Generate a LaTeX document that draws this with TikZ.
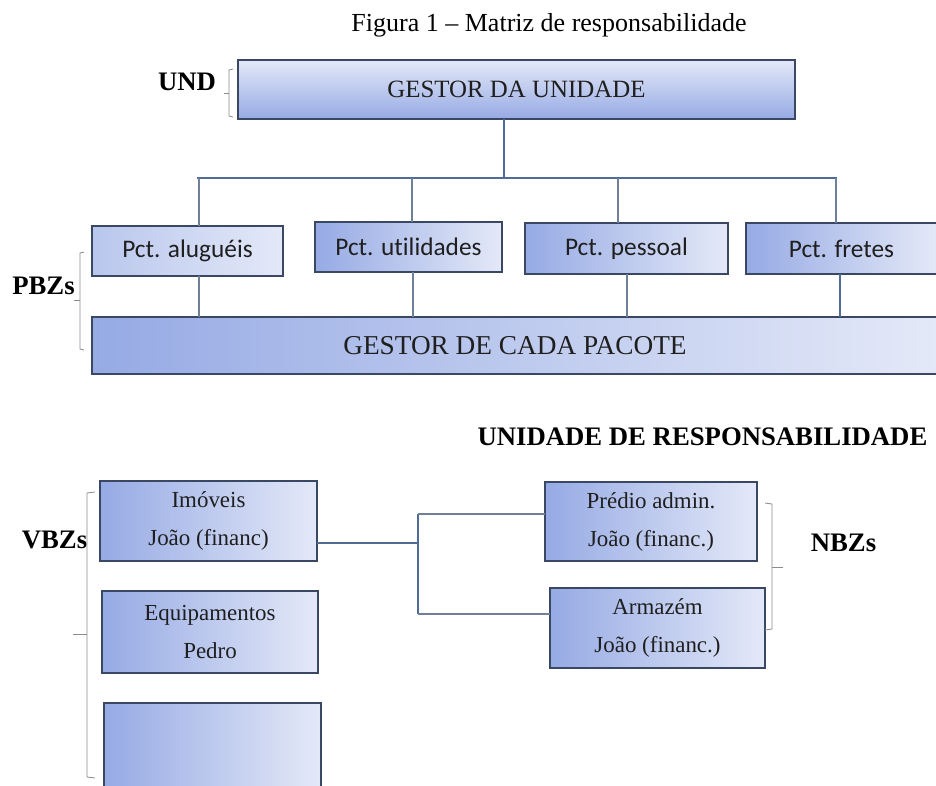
\documentclass[tikz,border=0pt]{standalone}
\usepackage{fontspec}
\setmainfont{Liberation Serif}
\newfontfamily\calibri[Ligatures=NoCommon, RawFeature={-liga;-calt}]{Carlito}
\usepackage{tikz}

\definecolor{borda}{RGB}{58,72,100}
\definecolor{linha}{RGB}{79,108,150}
\definecolor{cinzaazul}{RGB}{112,128,152}
\definecolor{chavecor}{RGB}{140,140,140}
\definecolor{azulesc}{RGB}{150,170,228}
\definecolor{azulcla}{RGB}{228,233,248}

\tikzset{
  caixa/.style={draw=borda, line width=1.3pt, left color=azulesc, right color=azulcla,
    inner sep=0pt, outer sep=0pt, text=black!88},
  pct/.style={caixa, font=\calibri\fontsize{18}{22}\selectfont},
  dupla/.style={caixa, align=center, font=\fontsize{16.3}{27}\selectfont},
  rotulo/.style={font=\bfseries\fontsize{19}{23}\selectfont},
  ramo/.style={linha, line width=1.6pt},
  haste/.style={cinzaazul, line width=1pt},
  chave/.style={chavecor, line width=0.6pt}
}

\begin{document}
\begin{tikzpicture}[x=0.025cm, y=-0.025cm]
  \useasboundingbox (0,0) rectangle (936,785);

  \node[font=\fontsize{18.5}{22}\selectfont] (titulo) at (549,25) {Figura 1 – Matriz de responsabilidade};

  \node[caixa, top color=azulcla, bottom color=azulesc, minimum width=13.925cm, minimum height=1.475cm,
    font=\fontsize{17.7}{21}\selectfont] (und) at (516.5,89.5) {GESTOR DA UNIDADE};
  \node[rotulo] (undrot) at (187,82) {UND};

  \node[pct, left color=azulesc!55!azulcla, minimum width=4.775cm, minimum height=1.25cm] (alug) at (187.5,251) {Pct. aluguéis};
  \node[pct, minimum width=4.675cm, minimum height=1.25cm] (util) at (408.5,247) {Pct. ut\kern0pt ilidades};
  \node[pct, minimum width=5.075cm, minimum height=1.275cm] (pess) at (626.5,248.5) {Pct. pessoal};
  \node[pct, minimum width=4.775cm, minimum height=1.275cm] (fret) at (841.5,248.5) {Pct. fretes};

  \node[caixa, minimum width=21.15cm, minimum height=1.425cm,
    font=\fontsize{19.4}{23}\selectfont] (pac) at (515,345.5) {GESTOR DE CADA PACOTE};
  \node[rotulo] (pbz) at (43.5,286) {PBZs};

  \node[rotulo] (resp) at (702.5,437) {UNIDADE DE RESPONSABILIDADE};

  \node[dupla, minimum width=5.425cm, minimum height=2cm] (imov) at (208.5,521) {Imóveis\\João (financ)};
  \node[dupla, minimum width=5.4cm, minimum height=2.05cm] (equip) at (210,632) {Equipamentos\\Pedro};
  \node[caixa, minimum width=5.425cm, minimum height=2.45cm] (vazio) at (212.5,752) {};
  \node[rotulo] (vbz) at (54.5,540) {VBZs};

  \node[dupla, minimum width=5.3cm, minimum height=1.975cm] (pred) at (651,521.5) {Prédio admin.\\João (financ.)};
  \node[dupla, minimum width=5.375cm, minimum height=2cm] (arm) at (657.5,628) {Armazém\\João (financ.)};
  \node[rotulo] (nbz) at (843.5,543) {NBZs};

  % ligacoes de cima
  \coordinate (jund) at (504,178);
  \coordinate (barraE) at (197,178);
  \coordinate (barraD) at (837,178);
  \coordinate (b1) at (199,178);
  \coordinate (b2) at (412,178);
  \coordinate (b3) at (618,178);
  \coordinate (b4) at (836,178);
  \coordinate (p1) at (199,320);
  \coordinate (p2) at (413,320);
  \coordinate (p3) at (627,320);
  \coordinate (p4) at (840,320);

  \draw[ramo] (jund |- und.south) -- (jund);
  \draw[ramo] (barraE) -- (barraD);
  \draw[haste] (b1) -- (b1 |- alug.north);
  \draw[haste] (b2) -- (b2 |- util.north);
  \draw[haste] (b3) -- (b3 |- pess.north);
  \draw[haste] (b4) -- (b4 |- fret.north);
  \draw[haste] (p1 |- alug.south) -- (p1 |- pac.north);
  \draw[haste] (p2 |- util.south) -- (p2 |- pac.north);
  \draw[haste] (p3 |- pess.south) -- (p3 |- pac.north);
  \draw[ramo] (p4 |- fret.south) -- (p4 |- pac.north);

  % ligacoes de baixo
  \coordinate (jv) at (418,543);
  \coordinate (jvs) at (418,514);
  \coordinate (jvi) at (418,614);
  \draw[ramo] (jv -| imov.east) -- (jv);
  \draw[ramo] (jvs) -- (jvi);
  \draw[haste] (jvs) -- (jvs -| pred.west);
  \draw[haste] (jvi) -- (jvi -| arm.west);

  % chaves
  \draw[chave] (233,69) -- (229,70) -- (229,116) -- (233,117);
  \draw[chave] (229,93) -- (224,93);
  \draw[chave] (84,252) -- (80,253) -- (80,349) -- (84,350);
  \draw[chave] (80,300) -- (74,300);
  \draw[chave] (95,492) -- (87,493) -- (87,777) -- (95,778);
  \draw[chave] (87,634) -- (73,634);
  \draw[chave] (765,503) -- (772,504) -- (772,629) -- (765,630);
  \draw[chave] (772,567) -- (783,567);

\end{tikzpicture}
\end{document}
